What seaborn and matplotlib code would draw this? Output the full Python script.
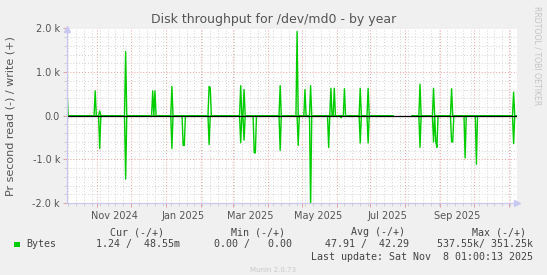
import numpy as np
import pandas as pd
import matplotlib
matplotlib.use("Agg")
import matplotlib.pyplot as plt
import matplotlib.dates as mdates
import matplotlib.transforms as mtrans
from matplotlib.ticker import MultipleLocator, FixedLocator, FuncFormatter
import seaborn as sns

# ---------------- data ----------------
start_date = "2024-10-05"
end_date = "2025-11-08"

write_dates = ["2024-10-05", "2024-10-30", "2024-11-03", "2024-11-26", "2024-12-20",
               "2024-12-22", "2025-01-06", "2025-02-08", "2025-02-09", "2025-03-08",
               "2025-03-11", "2025-04-12", "2025-04-27", "2025-05-04", "2025-05-09",
               "2025-05-27", "2025-05-30", "2025-06-08", "2025-06-22", "2025-06-29",
               "2025-08-14", "2025-08-26", "2025-09-11", "2025-11-05"]
write_values = [600, 570, 110, 1470, 570,
                570, 670, 670, 640, 690,
                600, 690, 1930, 600, 690,
                630, 630, 620, 630, 630,
                725, 630, 620, 540]

read_dates = ["2024-11-03", "2024-11-26", "2025-01-06", "2025-01-16", "2025-01-17",
              "2025-02-08", "2025-03-08", "2025-03-11", "2025-03-20", "2025-03-21",
              "2025-04-12", "2025-04-28", "2025-05-09", "2025-05-25", "2025-06-05",
              "2025-06-22", "2025-06-29", "2025-08-14", "2025-08-26", "2025-08-28",
              "2025-08-29", "2025-09-11", "2025-09-12", "2025-09-23", "2025-10-03",
              "2025-11-05"]
read_values = [750, 1450, 750, 680, 680,
               660, 620, 560, 850, 850,
               790, 680, 2100, 725, 45,
               625, 625, 725, 600, 600,
               725, 600, 600, 970, 1110,
               640]

gap_start = "2025-07-22"
gap_end = "2025-08-06"

y_ticks = [-2000, -1000, 0, 1000, 2000]
y_tick_labels = ["-2.0 k", "-1.0 k", "0.0", "1.0 k", "2.0 k"]
x_labels = ["Nov 2024", "Jan 2025", "Mar 2025", "May 2025", "Jul 2025", "Sep 2025"]

title = "Disk throughput for /dev/md0 - by year"
y_title = "Pr second read (-) / write (+)"
legend_headers = ["Cur (-/+)", "Min (-/+)", "Avg (-/+)", "Max (-/+)"]
legend_name = "Bytes"
legend_values = ["1.24 /  48.55m", "0.00 /   0.00", "47.91 /  42.29", "537.55k/ 351.25k"]
last_update = "Last update: Sat Nov  8 01:00:13 2025"
footer = "Munin 2.0.73"
side_text = "RRDTOOL / TOBI OETIKER"

# ---------------- build series ----------------
days = pd.date_range(start_date, end_date, freq="D")
write = pd.Series(0.0, index=days)
write.loc[pd.to_datetime(write_dates)] = write_values
read = pd.Series(0.0, index=days)
read.loc[pd.to_datetime(read_dates)] = read_values

gap = (days >= pd.Timestamp(gap_start)) & (days <= pd.Timestamp(gap_end))
seg = np.where(days < pd.Timestamp(gap_start), "a", "b")

frames = []
for name, s, sign in [("write", write, 1.0), ("read", read, -1.0)]:
    d = pd.DataFrame({"date": days, "value": sign * s.values, "unit": [name + g for g in seg]})
    frames.append(d[~gap])
df = pd.concat(frames, ignore_index=True)

# ---------------- figure ----------------
W, H = 547, 275
fig = plt.figure(figsize=(W / 100, H / 100), dpi=100, facecolor="#F0F0F0")
L, R, T, B = 67, 517, 28.5, 203
ax = fig.add_axes([L / W, 1 - B / H, (R - L) / W, (B - T) / H])
ax.set_facecolor("white")

green = "#00CC00"
sns.lineplot(data=df, x="date", y="value", units="unit", estimator=None,
             color=green, lw=1.0, ax=ax, legend=False, zorder=2)
ax.axhline(0, color="black", lw=0.9, zorder=2.5)

ax.set_xlim(pd.Timestamp(start_date), pd.Timestamp(end_date))
ax.set_ylim(y_ticks[0], y_ticks[-1])

# y axis
ax.yaxis.set_major_locator(FixedLocator(y_ticks))
ax.yaxis.set_major_formatter(FuncFormatter(lambda v, p: y_tick_labels[y_ticks.index(int(round(v)))] if int(round(v)) in y_ticks else ""))
ax.yaxis.set_minor_locator(MultipleLocator(200))

# x axis
ax.xaxis.set_major_locator(mdates.MonthLocator())
ax.xaxis.set_minor_locator(mdates.WeekdayLocator(byweekday=mdates.SU))
def xfmt(v, p):
    s = mdates.num2date(v).strftime("%b %Y")
    return s if s in x_labels else ""
ax.xaxis.set_major_formatter(FuncFormatter(xfmt))

ax.grid(which="major", axis="both", color="#F2A0A0", lw=0.7, ls=(0, (1, 2)))
ax.grid(which="minor", axis="both", color="#D4D4D4", lw=0.7, ls=(0, (1, 2)))
ax.set_axisbelow(True)

for sp in ["top", "right"]:
    ax.spines[sp].set_visible(False)
for sp in ["left", "bottom"]:
    ax.spines[sp].set_color("#C8C8F0")
    ax.spines[sp].set_linewidth(0.9)

ax.tick_params(which="major", length=3, width=0.7, color="#E0A0A0", labelsize=7,
               labelcolor="#555555", pad=2)
ax.tick_params(which="minor", length=2, width=0.6, color="#C8C8C8")
ax.tick_params(axis="x", which="major", pad=3)
ax.set_xlabel("")
ax.set_ylabel("")

# axis arrows (decoration)
ax.plot([0], [1.0], marker="^", ms=4, color="#C8C8F0", transform=ax.transAxes,
        clip_on=False, zorder=5)
ax.plot([1.0], [0], marker=">", ms=4, color="#C8C8F0", transform=ax.transAxes,
        clip_on=False, zorder=5)

fig.canvas.draw()
shift = mtrans.ScaledTranslation(0.17, 0, fig.dpi_scale_trans)
for tk in ax.xaxis.get_major_ticks():
    tk.label1.set_transform(tk.label1.get_transform() + shift)

# texts
def fx(px):
    return px / W
def fy(py):
    return 1 - py / H

fig.text(fx(273.5), fy(19.5), title, ha="center", va="center", fontsize=9, color="#555555")
fig.text(fx(10.5), fy(116), y_title, ha="center", va="center", rotation=90,
         fontsize=8, color="#555555")
fig.text(fx(537), fy(55.5), side_text, ha="center", va="center", rotation=270,
         fontsize=5.6, color="#C4C4C4")

mono = dict(family="DejaVu Sans Mono", fontsize=7.2, color="#444444", va="center")
hdr_right = [164, 285, 405, 526]
val_right = [180, 292, 409, 533]
for txt, xr in zip(legend_headers, hdr_right):
    fig.text(fx(xr), fy(232.2), txt, ha="right", **mono)
fig.patches.append(plt.Rectangle((fx(14), fy(247)), 5.5 / W, 5.5 / H, transform=fig.transFigure,
                                 facecolor=green, edgecolor="none"))
fig.text(fx(26), fy(244.4), legend_name, ha="left", **mono)
for txt, xr in zip(legend_values, val_right):
    fig.text(fx(xr), fy(244.4), txt, ha="right", **mono)
fig.text(fx(533), fy(257), last_update, ha="right", **mono)
fig.text(fx(273), fy(270.3), footer, ha="center", va="center", fontsize=5, color="#C8C8C8")

fig.savefig("out.png", dpi=100, facecolor=fig.get_facecolor())
